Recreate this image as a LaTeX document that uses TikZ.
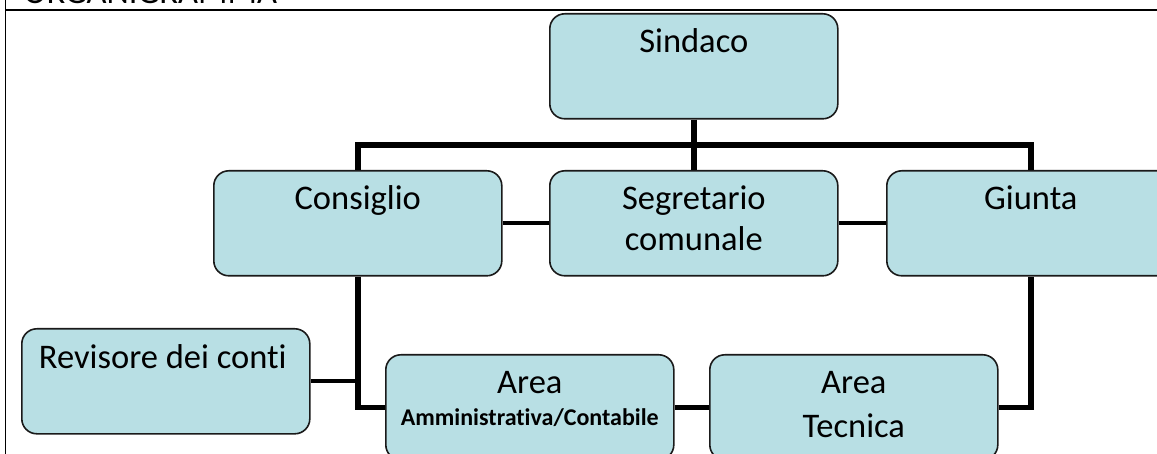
\documentclass[tikz,border=0pt]{standalone}
\usepackage{fontspec}
\setmainfont{Carlito}[Ligatures=NoCommon]
\definecolor{boxfill}{RGB}{184,223,228}
\definecolor{boxline}{RGB}{26,26,26}
\tikzset{
  orgbox/.style={draw=boxline, fill=boxfill, line width=1.6pt, rounded corners=15pt,
    minimum width=288pt, minimum height=105pt, inner sep=0pt, anchor=north west},
  lbl/.style={inner sep=0pt, anchor=base, font=\fontsize{34.5}{40}\selectfont},
  lblb/.style={inner sep=0pt, anchor=base, font=\fontsize{24}{28}\selectfont\bfseries},
  bus/.style={line width=5.5pt, line join=miter, black},
  conn/.style={line width=4pt, line join=miter, black},
  frameline/.style={line width=1.7pt, black}
}
\begin{document}
\begin{tikzpicture}[x=1pt, y=-1pt]
\useasboundingbox (0,0) rectangle (1157,454);
\clip (0,0) rectangle (1157,454);
% frame
\draw[frameline] (5.5,0) -- (5.5,454);
\draw[frameline] (5.5,10) -- (1157,10);
\node[lbl, anchor=base west] (title) at (23.5,3.5) {ORGANIGRAMMA};
% boxes
\node[orgbox] (sindaco) at (549,13) {};
\node[orgbox] (consiglio) at (213,170) {};
\node[orgbox] (segretario) at (549,170) {};
\node[orgbox] (giunta) at (886,170) {};
\node[orgbox] (revisore) at (21,328) {};
\node[orgbox] (admin) at (385,354) {};
\node[orgbox] (tecnica) at (709,354) {};
% labels
\node[lbl] (sindacoT) at (sindaco.north) [yshift=-40pt] {Sindaco};
\node[lbl] (consiglioT) at (consiglio.north) [yshift=-40pt] {Consiglio};
\node[lbl] (segretarioT) at (segretario.north) [yshift=-40pt] {Segretario};
\node[lbl] (segretarioT2) at (segretario.north) [yshift=-81pt] {comunale};
\node[lbl] (giuntaT) at (giunta.north) [yshift=-40pt] {Giunta};
\node[lbl] (revisoreT) at (revisore.north) [yshift=-40pt, xshift=-3pt] {Revisore dei conti};
\node[lbl] (adminT) at (admin.north) [yshift=-39pt] {Area};
\node[lblb] (adminT2) at (admin.north) [yshift=-71pt] {Amministrativa/Contabile};
\node[lbl] (tecnicaT) at (tecnica.north) [yshift=-39pt] {Area};
\node[lbl] (tecnicaT2) at (tecnica.north) [yshift=-83pt] {Tecnica};
% connectors
\coordinate (busy) at (693,145);
\draw[bus] (consiglio.north) -- (consiglio.north |- busy) -- (giunta.north |- busy) -- (giunta.north);
\draw[bus] (sindaco.south) -- (segretario.north);
\draw[conn] (consiglio.east) -- (segretario.west);
\draw[conn] (segretario.east) -- (giunta.west);
\draw[bus] (consiglio.south) -- (consiglio.south |- admin.west) -- (admin.west);
\draw[conn] (revisore.east) -- (revisore.east -| consiglio.south);
\draw[bus] (admin.east) -- (tecnica.west);
\draw[bus] (tecnica.east) -- (tecnica.east -| giunta.south) -- (giunta.south);
\end{tikzpicture}
\end{document}
